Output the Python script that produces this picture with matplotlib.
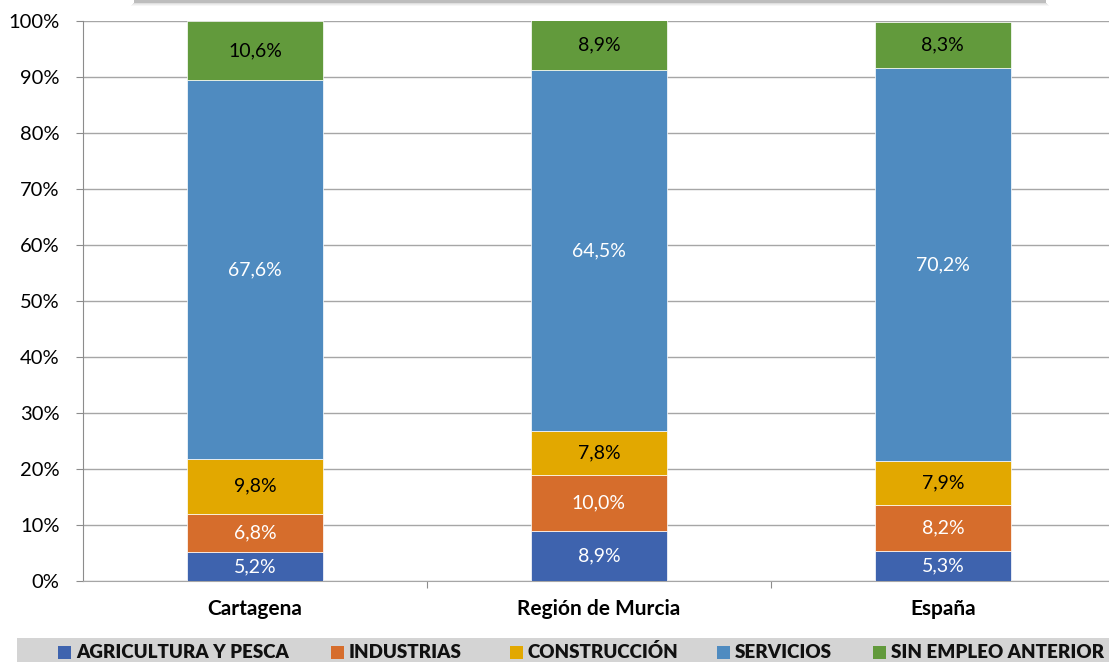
import numpy as np
import matplotlib.pyplot as plt
from matplotlib.patches import Rectangle

# data
places = ['Cartagena', 'Región de Murcia', 'España']
sectors = ['AGRICULTURA Y PESCA', 'INDUSTRIAS', 'CONSTRUCCIÓN', 'SERVICIOS', 'SIN EMPLEO ANTERIOR']
agricultura = [5.2, 8.9, 5.3]
industrias = [6.8, 10.0, 8.2]
construccion = [9.8, 7.8, 7.9]
servicios = [67.6, 64.5, 70.2]
sin_empleo = [10.6, 8.9, 8.3]

series = [agricultura, industrias, construccion, servicios, sin_empleo]
colors = ['#3E63AE', '#D66D2C', '#E2A800', '#4F8BC0', '#629A3C']
label_colors = ['white', 'white', 'black', 'white', 'black']

plt.rcParams['font.family'] = ['Lato', 'DejaVu Sans']

fig = plt.figure(figsize=(11.09, 6.62), dpi=100)
ax = fig.add_axes([83 / 1109, 1 - 581 / 662, 1 - 83 / 1109, 560 / 662])

x = np.arange(len(places))
bottom = np.zeros(len(places))
for vals, col, lc in zip(series, colors, label_colors):
    vals = np.array(vals)
    ax.bar(x, vals, 0.395, bottom=bottom, color=col, edgecolor='white',
           linewidth=0.5, zorder=3)
    for xi, b, v in zip(x, bottom, vals):
        ax.text(xi, b + v / 2, f'{v:.1f}%'.replace('.', ','), ha='center',
                va='center', color=lc, fontsize=14, zorder=4)
    bottom += vals

ax.set_xlim(-0.5, 2.483)
ax.set_ylim(0, 100)
ax.set_yticks(np.arange(0, 101, 10))
ax.set_yticklabels([f'{v}%' for v in range(0, 101, 10)], fontsize=14.5)
ax.yaxis.grid(True, color='#A6A6A6', linewidth=1, zorder=0)
ax.tick_params(axis='y', length=5, color='#8C8C8C', pad=12)

ax.set_xticks([0.5, 1.5])
ax.set_xticklabels([])
ax.tick_params(axis='x', length=5, color='#8C8C8C')
for xi, name in zip(x, places):
    ax.text(xi, -5, name, ha='center', va='center', fontsize=15,
            fontweight='bold', transform=ax.transData, clip_on=False)

for s in ['top', 'right']:
    ax.spines[s].set_visible(False)
ax.spines['left'].set_color('#8C8C8C')
ax.spines['bottom'].set_color('#A6A6A6')

# shadow of the (cut off) title box
for i, a in enumerate([0.35, 0.25, 0.15, 0.07]):
    fig.patches.append(Rectangle(((134 - i) / 1109, 1 - (3 + i) / 662),
                                 (912 + 2 * i) / 1109, 1 / 662,
                                 transform=fig.transFigure, facecolor='#808080',
                                 alpha=a, edgecolor='none'))
fig.patches.append(Rectangle((134 / 1109, 1 - 3 / 662), 912 / 1109, 3 / 662,
                             transform=fig.transFigure, facecolor='#BDBDBD',
                             edgecolor='none'))

# legend band
fig.patches.append(Rectangle((17 / 1109, 0), 1, 24 / 662,
                             transform=fig.transFigure, facecolor='#D4D4D4',
                             edgecolor='none'))
sq_x = [58, 331, 510, 717, 873]
for px, name, col in zip(sq_x, sectors, colors):
    fig.patches.append(Rectangle((px / 1109, 3 / 662), 13 / 1109, 13 / 662,
                                 transform=fig.transFigure, facecolor=col,
                                 edgecolor='none'))
    fig.text((px + 18) / 1109, 9.5 / 662, name, ha='left', va='center',
             fontsize=13.5, fontweight='heavy', color='#111111')

fig.savefig('out.png', dpi=100)
